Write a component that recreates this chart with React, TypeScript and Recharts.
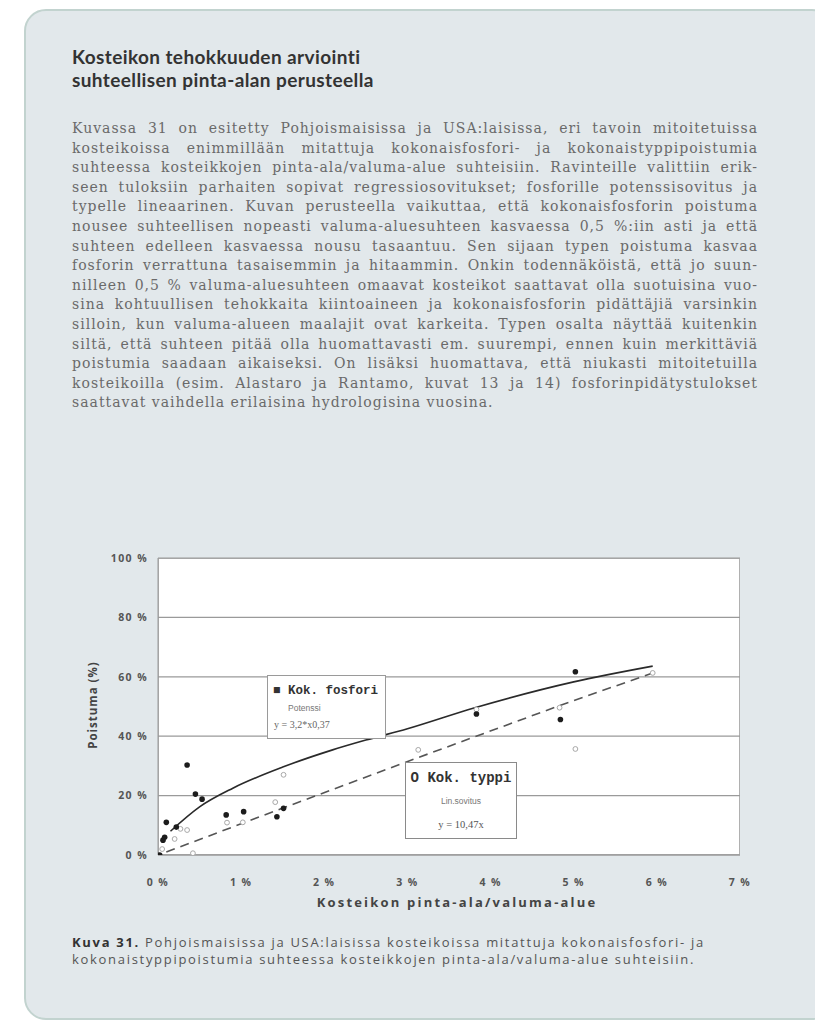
import { ComposedChart, Scatter, Line, XAxis, YAxis, CartesianGrid } from 'recharts'

const xTicks = [0, 1, 2, 3, 4, 5, 6, 7]
const yTicks = [0, 20, 40, 60, 80, 100]

// Kok. fosfori, mitatut poistumat (x = pinta-ala/valuma-alue %, y = poistuma %)
const fosforiX = [0.02, 0.06, 0.08, 0.1, 0.22, 0.35, 0.45, 0.53, 0.82, 1.03, 1.43, 1.51, 3.83, 4.84, 5.02]
const fosforiY = [0, 5, 6, 11, 9.4, 30.3, 20.5, 18.8, 13.5, 14.6, 12.9, 15.7, 47.5, 45.6, 61.7]

// Kok. typpi, mitatut poistumat
const typpiX = [0.05, 0.2, 0.27, 0.35, 0.42, 0.83, 1.02, 1.41, 1.51, 3.13, 3.83, 4.83, 5.02, 5.95]
const typpiY = [2, 5.4, 8.8, 8.4, 0.6, 10.9, 11, 17.8, 27, 35.4, 49, 49.6, 35.7, 61.3]

// potenssisovitus (luettu kuvasta)
const fosforiFitX = [0.15, 0.5, 0.9, 1.5, 2.1, 2.5, 3.0, 3.8, 5.0, 5.95]
const fosforiFitY = [8, 16.2, 22.5, 29.6, 35.4, 38.7, 42.5, 49.5, 58.3, 63.6]

// lineaarinen sovitus (luettu kuvasta)
const typpiFitX = [0.1, 1.5, 3.1, 4.8, 5.95]
const typpiFitY = [1, 15.8, 32.5, 50, 61.3]

const bodyLines = [
    'Kuvassa 31 on esitetty Pohjoismaisissa ja USA:laisissa, eri tavoin mitoitetuissa',
    'kosteikoissa enimmillään mitattuja kokonaisfosfori- ja kokonaistyppipoistumia',
    'suhteessa kosteikkojen pinta-ala/valuma-alue suhteisiin. Ravinteille valittiin erik-',
    'seen tuloksiin parhaiten sopivat regressiosovitukset; fosforille potenssisovitus ja',
    'typelle lineaarinen. Kuvan perusteella vaikuttaa, että kokonaisfosforin poistuma',
    'nousee suhteellisen nopeasti valuma-aluesuhteen kasvaessa 0,5 %:iin asti ja että',
    'suhteen edelleen kasvaessa nousu tasaantuu. Sen sijaan typen poistuma kasvaa',
    'fosforin verrattuna tasaisemmin ja hitaammin. Onkin todennäköistä, että jo suun-',
    'nilleen 0,5 % valuma-aluesuhteen omaavat kosteikot saattavat olla suotuisina vuo-',
    'sina kohtuullisen tehokkaita kiintoaineen ja kokonaisfosforin pidättäjiä varsinkin',
    'silloin, kun valuma-alueen maalajit ovat karkeita. Typen osalta näyttää kuitenkin',
    'siltä, että suhteen pitää olla huomattavasti em. suurempi, ennen kuin merkittäviä',
    'poistumia saadaan aikaiseksi. On lisäksi huomattava, että niukasti mitoitetuilla',
    'kosteikoilla (esim. Alastaro ja Rantamo, kuvat 13 ja 14) fosforinpidätystulokset',
    'saattavat vaihdella erilaisina hydrologisina vuosina.',
]

const toPoints = (xs: number[], ys: number[]) => xs.map((x, i) => ({ x, y: ys[i] }))

const fosforiData = toPoints(fosforiX, fosforiY)
const typpiData = toPoints(typpiX, typpiY)
const fosforiFit = toPoints(fosforiFitX, fosforiFitY)
const typpiFit = toPoints(typpiFitX, typpiFitY)

const tickStyle = { fill: '#555', fontSize: 10.5, fontWeight: 700, fontFamily: 'Open Sans', letterSpacing: 1.4 }

const RemovalChart = () => {
    return (
        <ComposedChart
            width={700}
            height={380}
            margin={{ top: 18, right: 20, bottom: 35, left: 38 }}
        >
            <CartesianGrid vertical={false} stroke='#9a9a9a' strokeWidth={1.2} />
            <XAxis
                type='number'
                dataKey='x'
                domain={[0, 7]}
                ticks={xTicks}
                tickFormatter={(t) => `${t} %`}
                tick={tickStyle}
                tickLine={false}
                tickSize={0}
                tickMargin={24}
                axisLine={{ stroke: '#9a9a9a' }}
                height={30}
                allowDataOverflow
            />
            <YAxis
                type='number'
                dataKey='y'
                domain={[0, 100]}
                ticks={yTicks}
                tickFormatter={(t) => `${t} %`}
                tick={tickStyle}
                tickLine={false}
                tickSize={0}
                tickMargin={10}
                axisLine={{ stroke: '#9a9a9a' }}
                width={60}
                allowDataOverflow
            />
            <Line
                data={fosforiFit}
                dataKey='y'
                type='monotone'
                stroke='#2a2a2a'
                strokeWidth={1.6}
                dot={false}
                isAnimationActive={false}
            />
            <Line
                data={typpiFit}
                dataKey='y'
                type='linear'
                stroke='#555'
                strokeWidth={1.6}
                strokeDasharray='9 6'
                dot={false}
                isAnimationActive={false}
            />
            <Scatter
                data={typpiData}
                isAnimationActive={false}
                shape={(p: any) => <circle cx={p.cx} cy={p.cy} r={2.4} fill='#fff' stroke='#a8a8a8' strokeWidth={1} />}
            />
            <Scatter
                data={fosforiData}
                isAnimationActive={false}
                shape={(p: any) => <circle cx={p.cx} cy={p.cy} r={2.8} fill='#1c1c1c' />}
            />
        </ComposedChart>
    )
}

export default function App() {
    return (
        <div style={{ position: 'absolute', left: 0, top: 0, width: 815, height: 1028, background: '#fff', overflow: 'hidden' }}>
            <div
                style={{
                    position: 'absolute',
                    left: 24,
                    top: 9,
                    width: 810,
                    height: 1011,
                    boxSizing: 'border-box',
                    border: '2px solid #c2d3cf',
                    borderRadius: 22,
                    background: '#e2e8eb',
                }}
            />

            <div style={{ position: 'absolute', left: 72, top: 45, fontFamily: 'Lato', fontWeight: 700, fontSize: 19, letterSpacing: 0.4, lineHeight: '23px', color: '#333' }}>
                <div>Kosteikon tehokkuuden arviointi</div>
                <div>suhteellisen pinta-alan perusteella</div>
            </div>

            <div style={{ position: 'absolute', left: 72, top: 119, width: 686, fontFamily: 'DejaVu Serif', fontSize: 14, letterSpacing: 1, lineHeight: '19.6px', color: '#6a6a6a' }}>
                {bodyLines.map((line, i) => (
                    <div
                        key={i}
                        style={{
                            textAlign: 'justify',
                            textAlignLast: i === bodyLines.length - 1 ? 'left' : 'justify',
                            whiteSpace: 'nowrap',
                        }}
                    >
                        {line}
                    </div>
                ))}
            </div>

            {/* plot background */}
            <div style={{ position: 'absolute', left: 158, top: 558, width: 582, height: 297, background: '#fff', border: '1px solid #b0b0b0', boxSizing: 'border-box' }} />

            <div style={{ position: 'absolute', left: 60, top: 540 }}>
                <RemovalChart />
            </div>

            <div
                style={{
                    position: 'absolute',
                    left: 92,
                    top: 705,
                    transform: 'translate(-50%, -50%) rotate(-90deg)',
                    fontFamily: 'Open Sans',
                    fontWeight: 700,
                    fontSize: 11.5,
                    letterSpacing: 1,
                    color: '#444',
                    whiteSpace: 'nowrap',
                }}
            >
                Poistuma (%)
            </div>
            <div
                style={{
                    position: 'absolute',
                    left: 457,
                    top: 902,
                    transform: 'translate(-50%, -50%)',
                    fontFamily: 'Open Sans',
                    fontWeight: 700,
                    fontSize: 13,
                    letterSpacing: 2.2,
                    color: '#444',
                    whiteSpace: 'nowrap',
                }}
            >
                Kosteikon pinta-ala/valuma-alue
            </div>

            {/* sovitusten selitteet */}
            <div style={{ position: 'absolute', left: 267, top: 675, width: 119, height: 64, boxSizing: 'border-box', background: '#fff', border: '1px solid #9a9a9a', color: '#333' }}>
                <div style={{ position: 'absolute', left: 5, top: 8, fontFamily: 'Liberation Mono', fontWeight: 700, fontSize: 12.5, whiteSpace: 'nowrap' }}>■ Kok. fosfori</div>
                <div style={{ position: 'absolute', left: 20, top: 27, fontFamily: 'Liberation Sans', fontSize: 8.5, color: '#777' }}>Potenssi</div>
                <div style={{ position: 'absolute', left: 6, top: 43, fontFamily: 'Liberation Serif', fontSize: 10, color: '#666', whiteSpace: 'nowrap' }}>y = 3,2*x0,37</div>
            </div>
            <div style={{ position: 'absolute', left: 405, top: 762, width: 112, height: 77, boxSizing: 'border-box', background: '#fff', border: '1.5px solid #8a8a8a', color: '#333', textAlign: 'center' }}>
                <div style={{ position: 'absolute', left: 0, right: 0, top: 7, fontFamily: 'Liberation Mono', fontWeight: 700, fontSize: 14, whiteSpace: 'nowrap' }}>O Kok. typpi</div>
                <div style={{ position: 'absolute', left: 0, right: 0, top: 33, fontFamily: 'Liberation Sans', fontSize: 8.5, color: '#777' }}>Lin.sovitus</div>
                <div style={{ position: 'absolute', left: 0, right: 0, top: 56, fontFamily: 'Liberation Serif', fontSize: 10.5, color: '#555' }}>y = 10,47x</div>
            </div>

            <div style={{ position: 'absolute', left: 72, top: 934, width: 720, fontFamily: 'Open Sans', fontSize: 13, letterSpacing: 1.7, lineHeight: '17px', color: '#555', whiteSpace: 'nowrap' }}>
                <div><b style={{ color: '#333' }}>Kuva 31.</b> Pohjoismaisissa ja USA:laisissa kosteikoissa mitattuja kokonaisfosfori- ja</div>
                <div>kokonaistyppipoistumia suhteessa kosteikkojen pinta-ala/valuma-alue suhteisiin.</div>
            </div>
        </div>
    )
}
